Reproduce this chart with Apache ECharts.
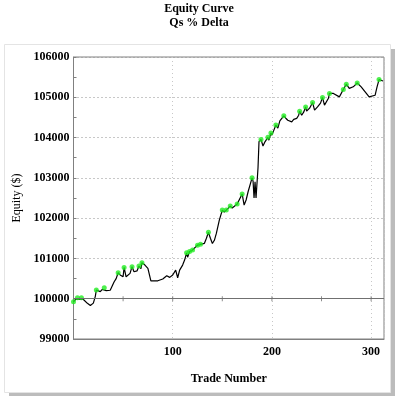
<!DOCTYPE html>
<html>
<head>
<meta charset="utf-8">
<script src="https://cdn.jsdelivr.net/npm/echarts@6/dist/echarts.min.js"></script>
<style>html,body{margin:0;padding:0;background:#fff;}#c{width:398px;height:400px;}</style>
</head>
<body>
<div id="c"></div>
<script>
const trades = [0,2,4,6,8,10,12,14,16,17,19,20,22,23,25,27,29,31,33,35,37,39,41,43,45,47,48,50,51,53,55,57,59,61,63,64,66,68,69,72,75,77,78,85,87,90,91,94,97,100,102,103,105,107,110,112,114,115,117,118,120,122,125,127,128,130,132,134,136,138,140,142,144,147,150,152,154,156,158,160,162,165,167,170,172,174,176,178,180,181,182,183,184,185,186,187,189,191,193,196,197,199,200,202,204,206,208,212,214,216,218,220,222,225,227,228,230,232,234,235,238,241,243,246,249,251,253,255,257,258,262,264,268,272,273,275,278,282,286,290,294,298,300,304,306,308,312];
const equity = [99925,99980,100025,99990,100025,99980,99945,99885,99900,99830,99870,99890,100060,100215,100190,100175,100230,100275,100200,100215,100210,100255,100420,100500,100645,100590,100620,100545,100775,100545,100590,100630,100795,100670,100710,100690,100810,100745,100895,100835,100755,100710,100445,100445,100490,100490,100530,100570,100530,100590,100600,100710,100520,100710,100835,100960,101140,101030,101170,101150,101210,101200,101330,101300,101350,101360,101375,101500,101650,101500,101370,101450,101620,101950,102200,102150,102200,102230,102300,102250,102270,102350,102330,102600,102325,102450,102655,102695,103000,102920,102500,102900,102500,102520,103250,103900,103955,103790,103895,104005,103935,104115,104060,104185,104310,104235,104415,104540,104480,104430,104410,104390,104450,104475,104555,104655,104555,104630,104760,104660,104730,104870,104680,104760,104855,104995,104805,104805,104975,105095,105095,105075,105010,105195,105150,105325,105220,105260,105355,105260,105135,105010,104985,105050,105260,105440,105405];
const highTrades = [0,4,8,23,31,45,51,59,66,69,114,117,120,125,128,136,150,154,158,165,170,180,189,196,199,204,212,228,234,241,251,258,272,275,286,308];
const baseTickTrades = [50,100,150,200,250,300];
const xTicks = [100,200,300];

const lineData = trades.map((t,i)=>[t,equity[i]]);
const highData = highTrades.map(t=>[t,equity[trades.indexOf(t)]]);
const baseTicks = baseTickTrades.map(t=>[t,100000]);

const serif = 'Liberation Serif';
const chart = echarts.init(document.getElementById('c'), null, {renderer:'canvas'});
chart.setOption({
  animation:false,
  backgroundColor:'#fff',
  graphic:[
    {type:'rect', z:-10, shape:{x:9,y:49,width:386,height:347}, style:{fill:'#bcbcbc'}},
    {type:'rect', z:-9, shape:{x:4.5,y:44.5,width:386,height:348}, style:{fill:'#fff',stroke:'#e4e4e4',lineWidth:1}}
  ],
  title:{
    text:'Equity Curve\nQs % Delta',
    left:'center', top:2, padding:0,
    textStyle:{fontFamily:serif,fontSize:12,fontWeight:'bold',color:'#000',lineHeight:14}
  },
  grid:{left:73.5,right:14,top:57,bottom:61,show:true,borderColor:'#808080',borderWidth:1,backgroundColor:'transparent'},
  xAxis:{
    type:'value',min:0,max:313,interval:100,
    name:'Trade Number',nameLocation:'middle',nameGap:34,
    nameTextStyle:{fontFamily:serif,fontSize:12,fontWeight:'bold',color:'#000'},
    axisLine:{show:true,lineStyle:{color:'#808080'}},
    axisTick:{show:false},
    axisLabel:{fontFamily:serif,fontSize:12,fontWeight:'bold',color:'#000',margin:7,
      customValues:xTicks, formatter:v=>String(v)},
    splitLine:{show:true,lineStyle:{color:'#c8c8c8',type:[1,3]}}
  },
  yAxis:{
    type:'value',min:99000,max:106000,interval:1000,
    name:'Equity ($)',nameLocation:'middle',nameGap:51,nameRotate:90,
    nameTextStyle:{fontFamily:serif,fontSize:12,color:'#000'},
    axisLine:{show:true,lineStyle:{color:'#808080'}},
    axisTick:{show:true,inside:true,length:3,lineStyle:{color:'#808080'}},
    minorTick:{show:true,splitNumber:2,length:3,lineStyle:{color:'#808080'}},
    axisLabel:{fontFamily:serif,fontSize:12,fontWeight:'bold',color:'#000',margin:4,formatter:v=>String(v)},
    splitLine:{show:true,lineStyle:{color:'#909090',type:[1,3]}}
  },
  series:[
    {
      type:'line',data:[],silent:true,
      markLine:{silent:true,symbol:'none',label:{show:false},
        lineStyle:{color:'#707070',type:'solid',width:1},
        data:[{yAxis:100000}]}
    },
    {
      type:'scatter',data:baseTicks,symbol:'rect',symbolSize:[1,5],
      itemStyle:{color:'#707070'},silent:true,z:1
    },
    {
      type:'line',data:lineData,showSymbol:false,symbol:'none',
      lineStyle:{color:'#000',width:1.2},z:3
    },
    {
      type:'scatter',data:highData,symbol:'circle',symbolSize:5,
      itemStyle:{color:'#22ee22'},z:4
    }
  ]
});
</script>
</body>
</html>
